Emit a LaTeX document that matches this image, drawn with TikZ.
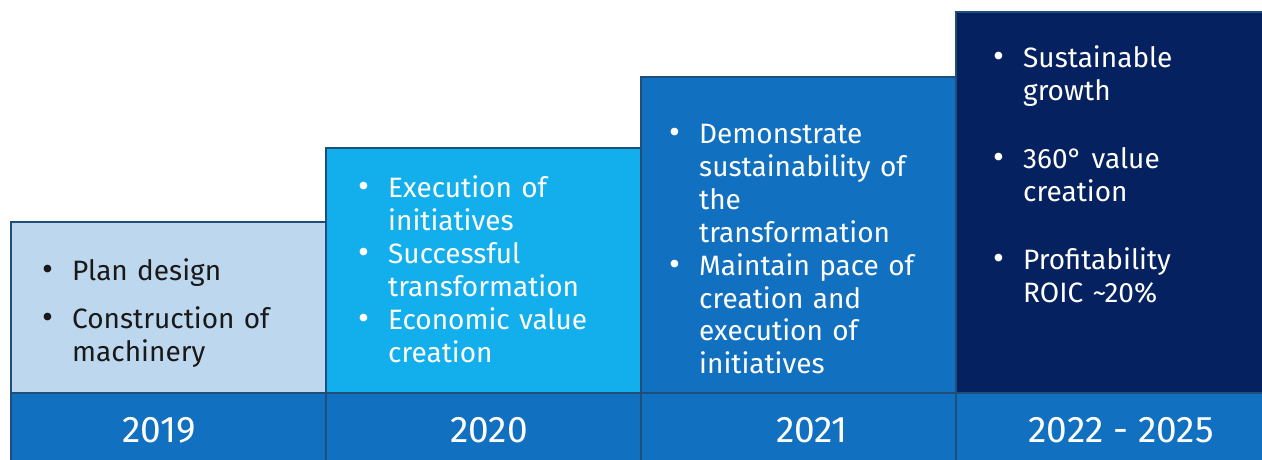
\documentclass[tikz,border=0pt]{standalone}
\usepackage{fontspec}
\setmainfont{Fira Sans}
\usetikzlibrary{positioning}
\definecolor{planpale}{HTML}{BDD7EE}
\definecolor{plansky}{HTML}{13AEEC}
\definecolor{planmid}{HTML}{1170C0}
\definecolor{plannavy}{HTML}{06215F}
\definecolor{planedge}{HTML}{1F4E79}
\tikzstyle{stage}=[
  draw=planedge,
  line width=1.2pt
]
\tikzstyle{plan}=[
  anchor=base west,
  text width=290pt,
  align=left,
  inner sep=0pt,
  text=white,
  font={\fontsize{28}{33}\selectfont}
]
\tikzstyle{year}=[
  text=white,
  inner sep=0pt,
  font={\fontsize{37}{40}\selectfont}
]
% one bullet point, wrapped lines hang under the text
\newcommand\itm[1]{\hangindent=30pt\hangafter=1\noindent\makebox[30pt][l]{\scalebox{1.2}{\textbullet}}#1\par}

\begin{document}
\begin{tikzpicture}[x=1pt, y=-1pt]

\useasboundingbox (0,0) rectangle (1262,460);

%% steps
\draw[stage, fill=planpale] (11,222) rectangle (326,393);
\draw[stage, fill=plansky] (326,148) rectangle (641,393);
\draw[stage, fill=planmid] (641,77) rectangle (956,393);
\draw[stage, fill=plannavy] (956,12) rectangle (1266,393);

%% year band
\draw[stage, fill=planmid] (11,393) rectangle (1266,464);
\draw[stage] (326,393) -- (326,464);
\draw[stage] (641,393) -- (641,464);
\draw[stage] (956,393) -- (956,464);

\node[year] (y2019) at (159,430) {2019};
\node[year] (y2020) at (489,430) {2020};
\node[year] (y2021) at (812,430) {2021};
\node[year] (y2022) at (1121,430) {2022 - 2025};

%% bullet texts
\node[plan, text=black!90] (p2019) at (42,280) {%
  \itm{Plan design}\vspace{15pt}
  \itm{Construction of\newline machinery}};

\node[plan] (p2020) at (358,197) {%
  \itm{Execution of\newline initiatives}
  \itm{Successful\newline transformation}
  \itm{Economic value\newline creation}};

\node[plan] (p2021) at (669,143) {%
  \itm{Demonstrate\newline sustainability of\newline the\newline transformation}
  \itm{Maintain pace of\newline creation and\newline execution of\newline initiatives}};

\node[plan] (p2022) at (993,68) {%
  \itm{Sustainable\newline growth}\vspace{35pt}
  \itm{360° value\newline creation}\vspace{35pt}
  \itm{Profitability\newline ROIC \textasciitilde20\%}};

\end{tikzpicture}
\end{document}
